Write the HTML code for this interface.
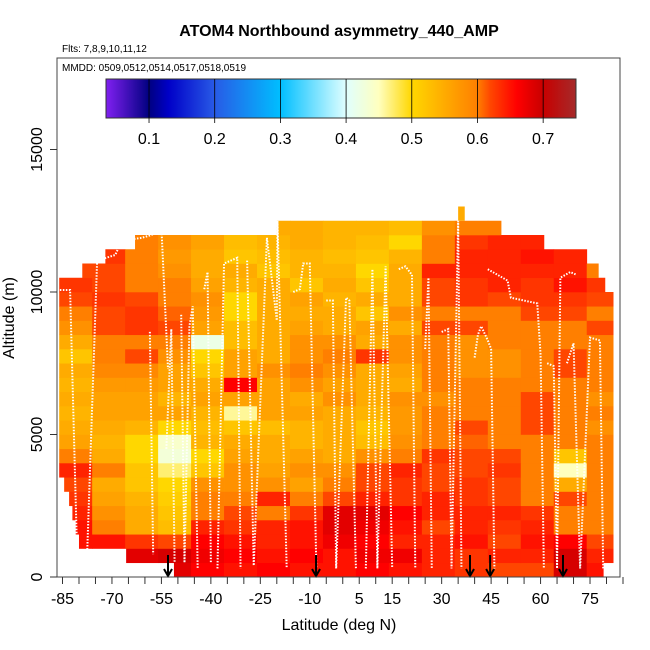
<!DOCTYPE html>
<html><head><meta charset="utf-8"><style>
html,body{margin:0;padding:0;background:#fff}
svg{display:block;font-family:"Liberation Sans",sans-serif}
</style></head><body>
<svg id="chart" width="650" height="650" viewBox="0 0 650 650"></svg>
<script>
// ---- data ----
const latEdges = [-86,-76,-66,-56,-46,-36,-26,-16,-6,4,14,24,34,44,54,64,74,84];
const rowAltBottom = [0,500,1000,1500,2000,2500,3000,3500,4000,4500,5000,5500,6000,6500,7000,7500,8000,8500,9000,9500,10000,10500,11000,11500,12000];
const rowLeft  = [-51.2,-65.7,-80,-81,-82,-83,-84.5,-86,-86,-86,-86,-86,-86,-86,-86,-86,-86,-86,-86,-86,-86,-79,-72,-63,-20];
const rowRight = [79,82,82,82,82,82,82,82,82,82,82,82,82,82,82,82,82,82,82,82,79.5,77.5,74,61,48];
const r0  = [0,0,0,0.68,0.66,0.65,0.66,0.65,0.65,0.66,0.65,0.64,0.63,0.62,0.62,0.69,0.65];
const r1  = [0,0.68,0.68,0.69,0.67,0.66,0.65,0.66,0.65,0.67,0.67,0.64,0.63,0.64,0.64,0.69,0.64];
const r2  = [0.65,0.65,0.63,0.62,0.66,0.65,0.64,0.65,0.67,0.66,0.64,0.64,0.65,0.62,0.65,0.66,0.62];
const r3  = [0.65,0.6,0.55,0.53,0.64,0.63,0.64,0.65,0.68,0.67,0.65,0.62,0.64,0.63,0.64,0.6,0.6];
const r4  = [0.64,0.58,0.55,0.52,0.6,0.62,0.6,0.63,0.68,0.68,0.66,0.64,0.64,0.64,0.63,0.6,0.6];
const r5  = [0.63,0.56,0.54,0.51,0.6,0.6,0.64,0.6,0.62,0.64,0.63,0.64,0.63,0.62,0.6,0.62,0.6];
const r6  = [0.62,0.55,0.52,0.5,0.58,0.58,0.58,0.56,0.6,0.62,0.63,0.62,0.63,0.62,0.6,0.55,0.6];
const r7  = [0.64,0.6,0.52,0.47,0.52,0.58,0.56,0.58,0.58,0.62,0.64,0.62,0.62,0.63,0.6,0.45,0.6];
const r8  = [0.6,0.55,0.5,0.43,0.5,0.56,0.55,0.56,0.55,0.58,0.6,0.63,0.62,0.62,0.6,0.52,0.6];
const r9  = [0.56,0.54,0.5,0.44,0.54,0.55,0.55,0.54,0.55,0.53,0.58,0.6,0.61,0.6,0.6,0.6,0.6];
const r10 = [0.55,0.55,0.54,0.5,0.53,0.52,0.53,0.54,0.55,0.52,0.57,0.6,0.62,0.6,0.62,0.6,0.58];
const r11 = [0.54,0.56,0.56,0.56,0.54,0.46,0.56,0.56,0.55,0.54,0.57,0.6,0.6,0.6,0.62,0.6,0.6];
const r12 = [0.55,0.56,0.56,0.54,0.56,0.56,0.56,0.55,0.58,0.55,0.58,0.58,0.6,0.6,0.62,0.6,0.58];
const r13 = [0.54,0.57,0.57,0.56,0.55,0.66,0.56,0.58,0.56,0.55,0.55,0.6,0.6,0.6,0.6,0.6,0.6];
const r14 = [0.55,0.59,0.59,0.56,0.52,0.56,0.58,0.6,0.58,0.55,0.56,0.6,0.58,0.58,0.6,0.62,0.6];
const r15 = [0.52,0.6,0.62,0.58,0.5,0.56,0.55,0.58,0.6,0.63,0.58,0.6,0.58,0.58,0.6,0.62,0.6];
const r16 = [0.55,0.6,0.6,0.6,0.42,0.53,0.55,0.58,0.58,0.55,0.58,0.6,0.58,0.6,0.6,0.6,0.6];
const r17 = [0.58,0.62,0.63,0.62,0.56,0.53,0.55,0.56,0.55,0.56,0.55,0.62,0.62,0.6,0.6,0.6,0.62];
const r18 = [0.6,0.62,0.63,0.61,0.57,0.5,0.55,0.55,0.55,0.52,0.58,0.6,0.6,0.6,0.62,0.62,0.6];
const r19 = [0.62,0.63,0.62,0.6,0.58,0.5,0.55,0.56,0.54,0.55,0.55,0.62,0.63,0.62,0.63,0.63,0.62];
const r20 = [0.63,0.62,0.6,0.6,0.56,0.54,0.55,0.52,0.55,0.52,0.55,0.62,0.63,0.64,0.63,0.65,0.63];
const r21 = [0.62,0.62,0.6,0.58,0.55,0.55,0.52,0.54,0.54,0.5,0.55,0.64,0.64,0.64,0.64,0.64,0.6];
const r22 = [0.62,0.63,0.6,0.57,0.55,0.52,0.53,0.54,0.53,0.52,0.54,0.6,0.64,0.64,0.65,0.64,0.6];
const r23 = [0,0.6,0.6,0.58,0.56,0.53,0.54,0.55,0.54,0.53,0.5,0.6,0.63,0.64,0.64,0.6,0.6];
const r24 = [0,0,0,0,0,0,0.55,0.55,0.54,0.54,0.53,0.58,0.6,0.6,0.6,0.6,0.6];
const rows = [r0,r1,r2,r3,r4,r5,r6,r7,r8,r9,r10,r11,r12,r13,r14,r15,r16,r17,r18,r19,r20,r21,r22,r23,r24];
const xTicks = [-85,-70,-55,-40,-25,-10,5,15,30,45,60,75];
const yTicks = [0,5000,10000,15000];
const cbTicks = [0.1,0.2,0.3,0.4,0.5,0.6,0.7];
const arrowLats = [-53,-8.1,38.6,44.7,66.8];
const tracks = [
 [[-85.8,10070],[-82.7,10070],[-80.5,500],[-77.5,900],[-74.5,11100],[-69,11300],[-67,11800],[-61,11900],[-58,12000],[-55,12250],[-53,7300]],
 [[-58.5,8600],[-57.5,800]],
 [[-53.5,4500],[-52,8700],[-51,500]],
 [[-49,9200],[-48,500],[-46.5,8800],[-45.5,9500],[-44,300]],
 [[-42,10100],[-41,10700],[-40,500]],
 [[-38,300],[-36,11000],[-32,11200],[-31,300]],
 [[-29,11100],[-27,400],[-23,11900],[-20,9000],[-19.8,12500],[-17,300]],
 [[-15,10000],[-13,10100],[-12,11000],[-10,11000],[-8,300]],
 [[-5,9700],[-3,9700],[-2,300],[1,9800],[2,9700],[4,300]],
 [[7,300],[9,10800],[10.5,300],[13,10900],[15,300]],
 [[17,10800],[19,10900],[21,10600],[22,300]],
 [[25,8000],[26,10500],[27,300]],
 [[30,8600],[32,8700],[33,300],[35,12500],[36,300]],
 [[40,7700],[41,8500],[42,8800],[44,8300],[45,8000],[46,300]],
 [[44,10800],[50,10400],[51,9800],[55,9700],[59,9600],[60,7800],[61,300]],
 [[62,7500],[64,7400],[65,300],[66,10500],[69,10700],[71,10600]],
 [[68,7500],[70,8200],[72,300],[75,8400],[78,8300],[79,300]]
];
// ---- scales ----
const X0=62.5, XK=3.297, Y0=577, YK=0.0285;
const xS = lat => X0 + (lat+85)*XK;
const yS = alt => Y0 - alt*YK;
const CB0=106, CB1=576, CBV0=0.0345, CBV1=0.75;
const cbX = v => CB0 + (v-CBV0)/(CBV1-CBV0)*(CB1-CB0);
const cstops = [[0.035,[128,32,240]],[0.1,[0,0,128]],[0.13,[0,0,200]],[0.2,[40,90,230]],[0.3,[0,191,255]],[0.4,[224,255,255]],[0.45,[255,255,190]],[0.5,[255,215,0]],[0.6,[255,127,0]],[0.62,[255,70,0]],[0.66,[255,0,0]],[0.7,[200,0,0]],[0.75,[165,42,42]]];
function col(v){
  if(v<=cstops[0][0]) return 'rgb('+cstops[0][1]+')';
  for(let i=1;i<cstops.length;i++){
    if(v<=cstops[i][0]){const a=cstops[i-1],b=cstops[i],t=(v-a[0])/(b[0]-a[0]);
      return 'rgb('+a[1].map((c,k)=>Math.round(c+(b[1][k]-c)*t)).join(',')+')';}
  }
  return 'rgb('+cstops[cstops.length-1][1]+')';
}
const NS='http://www.w3.org/2000/svg';
const svg=document.getElementById('chart');
function mk(tag,attrs,parent){const e=document.createElementNS(NS,tag);for(const k in attrs)e.setAttribute(k,attrs[k]);(parent||svg).appendChild(e);return e;}
// heatmap
const hm=mk('g',{});


rows.forEach((vals,ri)=>{
  const a0=rowAltBottom[ri];
  vals.forEach((v,bi)=>{
    if(!v) return;
    const l=Math.max(latEdges[bi],rowLeft[ri]), r=Math.min(latEdges[bi+1],rowRight[ri]);
    if(r<=l) return;
    const c=mk('rect',{x:xS(l),y:yS(a0+500),width:xS(r)-xS(l)+0.4,height:yS(a0)-yS(a0+500)+0.3,fill:col(v)},hm);
    
    
  });
});
const top1=mk('rect',{x:xS(35),y:yS(13000),width:xS(37)-xS(35),height:yS(12500)-yS(13000),fill:col(0.55)},hm);


// tracks
tracks.forEach(t=>{
  const p=mk('polyline',{points:t.map(q=>xS(q[0])+','+yS(q[1])).join(' '),fill:'none',stroke:'#fff','stroke-width':2,'stroke-dasharray':'1.5 1.5'});
  
  
});
// arrows
arrowLats.forEach(a=>{
  const g=mk('g',{stroke:'#000','stroke-width':2,fill:'none'});
  
  
  const x=xS(a);
  mk('line',{x1:x,y1:555,x2:x,y2:576},g);
  mk('polyline',{points:(x-4)+',569 '+x+',576 '+(x+4)+',569'},g);
});
// plot box
const box=mk('rect',{x:57,y:58,width:563,height:519,fill:'none',stroke:'#444','stroke-width':1});


// x ticks
for(let lat=-85;lat<=85;lat+=5){mk('line',{x1:xS(lat),y1:577,x2:xS(lat),y2:584,stroke:'#333'});}
xTicks.forEach(t=>{
  const e=mk('text',{x:xS(t),y:604,'text-anchor':'middle','font-size':16,fill:'#000'});
  e.textContent=t;
  
  
});
yTicks.forEach(t=>{
  mk('line',{x1:50,y1:yS(t),x2:57,y2:yS(t),stroke:'#333'});
  const e=mk('text',{x:42,y:yS(t),'text-anchor':'middle','font-size':16,fill:'#000',transform:'rotate(-90 42 '+yS(t)+')'});
  e.textContent=t;
  
  
});
// colorbar
const defs=mk('defs',{});
const lg=mk('linearGradient',{id:'cbg',x1:0,x2:1,y1:0,y2:0},defs);
for(let v=CBV0;v<=CBV1+1e-9;v+=0.005){mk('stop',{offset:(v-CBV0)/(CBV1-CBV0),'stop-color':col(v)},lg);}
const cb=mk('rect',{x:CB0,y:79,width:CB1-CB0,height:39,fill:'url(#cbg)',stroke:'#333','stroke-width':1});


cbTicks.forEach(t=>{
  mk('line',{x1:cbX(t),y1:79,x2:cbX(t),y2:123,stroke:'#000','stroke-width':0.8});
  const e=mk('text',{x:cbX(t),y:144,'text-anchor':'middle','font-size':16,fill:'#000'});
  e.textContent=t;
  
  
});
</script>
<svg width="650" height="650" style="position:absolute;left:0;top:0">
<text x="339" y="36" text-anchor="middle" font-size="16" font-weight="bold" font-family="Liberation Sans,sans-serif">ATOM4 Northbound asymmetry_440_AMP</text>
<text x="62" y="52" font-size="10" font-family="Liberation Sans,sans-serif">Flts: 7,8,9,10,11,12</text>
<text x="62" y="71" font-size="10" font-family="Liberation Sans,sans-serif">MMDD: 0509,0512,0514,0517,0518,0519</text>
<text x="339" y="630" text-anchor="middle" font-size="16" font-family="Liberation Sans,sans-serif">Latitude (deg N)</text>
<text x="14" y="318" text-anchor="middle" font-size="16" font-family="Liberation Sans,sans-serif" transform="rotate(-90 14 318)">Altitude (m)</text>
</svg>
</body></html>
